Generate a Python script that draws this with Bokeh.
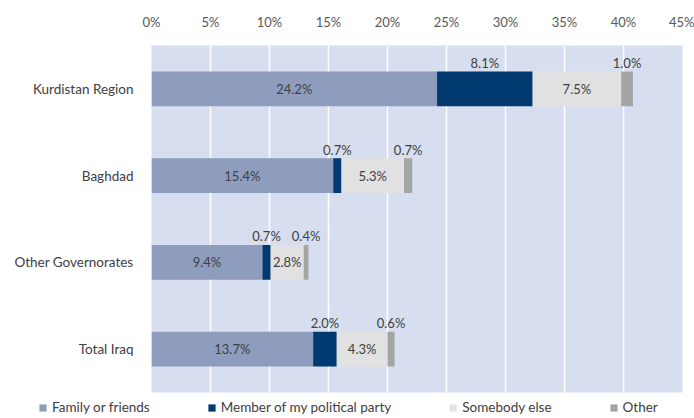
from bokeh.plotting import figure
from bokeh.layouts import column
from bokeh.models import ColumnDataSource, FactorRange, Range1d, Legend, LegendItem, FixedTicker
from bokeh.core.properties import value
from bokeh.embed import file_html
from bokeh.resources import INLINE

categories = ["Kurdistan Region", "Baghdad", "Other Governorates", "Total Iraq"]
family = [24.2, 15.4, 9.4, 13.7]
member = [8.1, 0.7, 0.7, 2.0]
somebody = [7.5, 5.3, 2.8, 4.3]
other = [1.0, 0.7, 0.4, 0.6]
series_names = ["Family or friends", "Member of my political party", "Somebody else", "Other"]
x_ticks = [0, 5, 10, 15, 20, 25, 30, 35, 40, 45]

colors = ["#8e9dbd", "#003a70", "#e1e1e1", "#a5a5a5"]
FONT = "Lato"
TXT = "#404040"

p = figure(width=694, height=398, output_backend="svg", toolbar_location=None,
           y_range=FactorRange(factors=list(reversed(categories)), range_padding=0),
           x_range=Range1d(0, 45), x_axis_location="above",
           min_border_left=151, min_border_right=12, min_border_top=45, min_border_bottom=6)
p.frame_align = False
p.background_fill_color = "#d6deef"
p.border_fill_color = "white"
p.outline_line_color = None

series = [family, member, somebody, other]
starts = []
ends = []
acc = [0.0] * len(categories)
for s in series:
    st = list(acc)
    en = [a + v for a, v in zip(acc, s)]
    starts.append(st)
    ends.append(en)
    acc = en

for i, s in enumerate(series):
    src = ColumnDataSource(dict(y=categories, left=starts[i], right=ends[i],
                                mid=[(a + b) / 2 for a, b in zip(starts[i], ends[i])],
                                lab=["%.1f%%" % v for v in s]))
    p.hbar(y="y", left="left", right="right", height=0.4, source=src,
           fill_color=colors[i], line_color=None)
    p.text(x="mid", y="y", text="lab", source=src, text_align="center",
           text_baseline="middle", text_font=value(FONT), text_font_size="13px",
           text_color=TXT, y_offset=(0 if i in (0, 2) else -26))

p.xgrid.grid_line_color = "white"
p.xgrid.grid_line_width = 1.5
p.ygrid.grid_line_color = None
p.xaxis.ticker = FixedTicker(ticks=x_ticks)
p.xaxis.major_label_overrides = {t: "%d%%" % t for t in x_ticks}
p.xaxis.axis_line_color = None
p.xaxis.major_tick_line_color = None
p.xaxis.minor_tick_line_color = None
p.xaxis.major_label_standoff = 10
p.xaxis.major_label_text_font = FONT
p.xaxis.major_label_text_font_size = "13px"
p.xaxis.major_label_text_color = "#595959"

p.yaxis.axis_line_color = None
p.yaxis.major_tick_line_color = None
p.yaxis.major_label_standoff = 12
p.yaxis.major_label_text_font = FONT
p.yaxis.major_label_text_font_size = "13.5px"
p.yaxis.major_label_text_color = TXT

# legend strip below the chart
p2 = figure(width=694, height=20, output_backend="svg", toolbar_location=None,
            x_range=Range1d(0, 1), y_range=Range1d(0, 1),
            min_border_left=0, min_border_right=0, min_border_top=0, min_border_bottom=0)
p2.frame_align = False
p2.axis.visible = False
p2.grid.visible = False
p2.outline_line_color = None
p2.background_fill_color = "white"
dummies = []
for i in range(4):
    # legend-only swatch renderers, kept outside the visible range
    r = p2.hbar(y=[-10], left=[0], right=[1], height=0.1, fill_color=colors[i], line_color=None)
    dummies.append(r)

legend = Legend(items=[LegendItem(label=series_names[i], renderers=[dummies[i]]) for i in range(4)],
                orientation="horizontal", location=(38, 3),
                glyph_width=9, glyph_height=9, label_standoff=5, spacing=57,
                padding=0, margin=0, border_line_color=None, background_fill_alpha=0,
                label_text_font=FONT, label_text_font_size="13.5px", label_text_color=TXT,
                label_height=12)
p2.add_layout(legend, "center")

open("out.html", "w").write(file_html(column(p, p2, spacing=0), INLINE))
